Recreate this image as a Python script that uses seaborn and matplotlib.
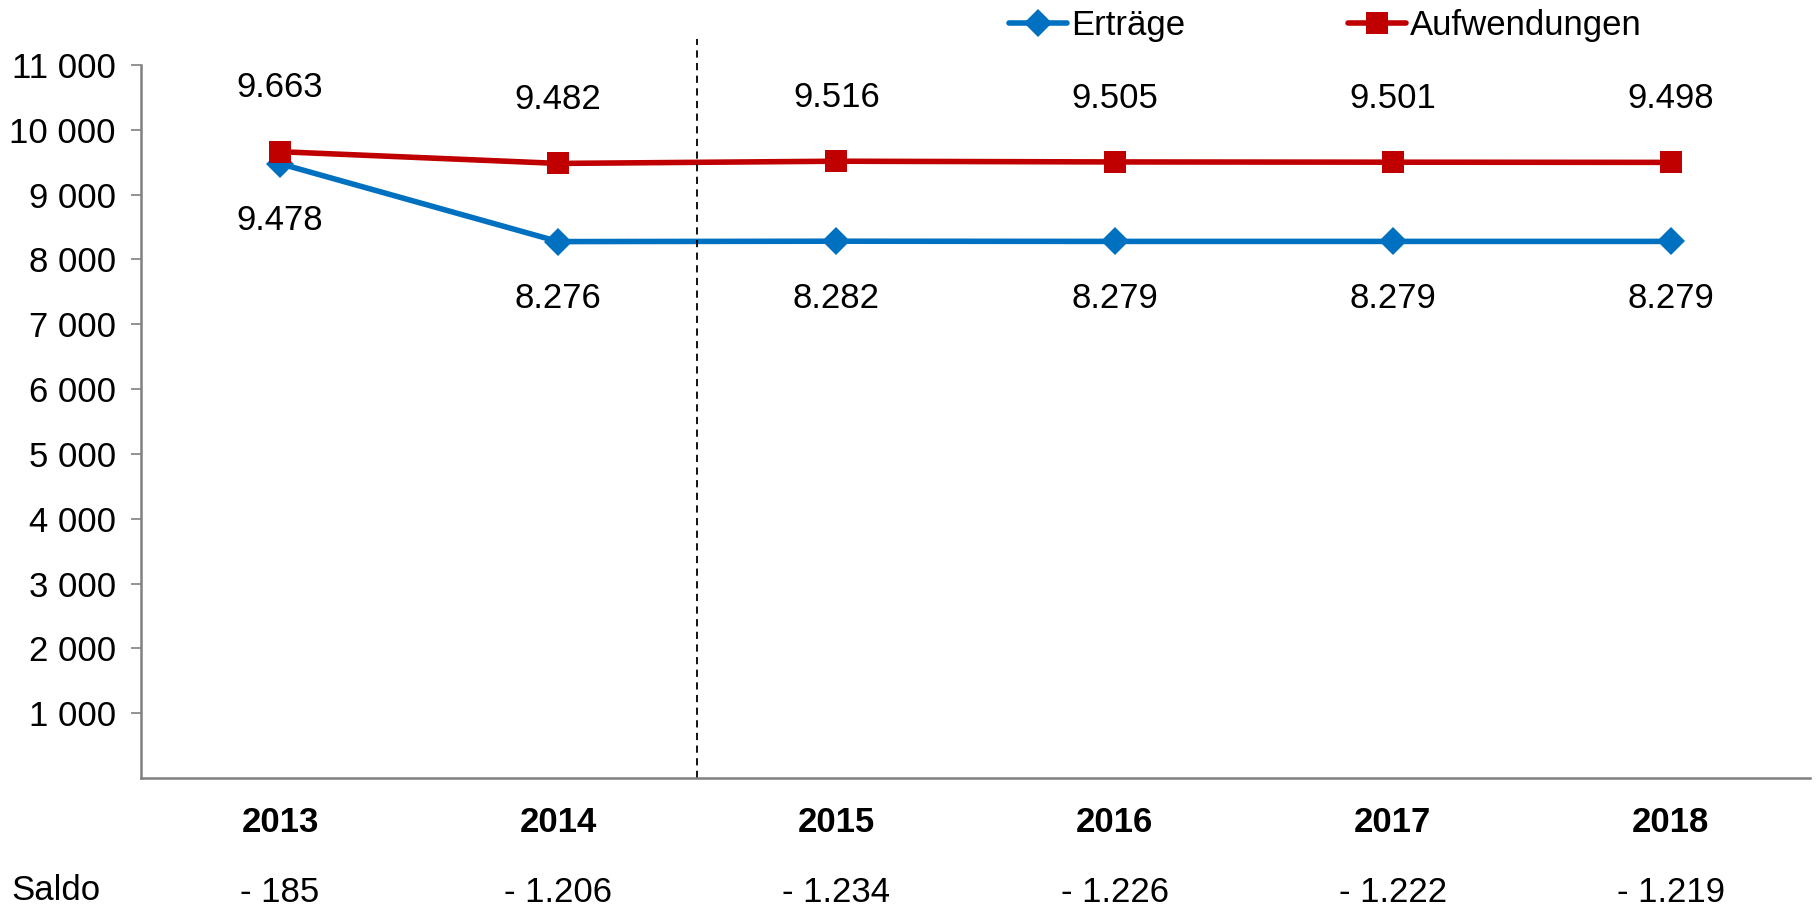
import numpy as np
import pandas as pd
import matplotlib.pyplot as plt
import seaborn as sns
from matplotlib.lines import Line2D
from matplotlib.ticker import FuncFormatter

years = ['2013', '2014', '2015', '2016', '2017', '2018']
ertraege = [9478, 8276, 8282, 8279, 8279, 8279]
aufwendungen = [9663, 9482, 9516, 9505, 9501, 9498]
saldo = ['- 185', '- 1.206', '- 1.234', '- 1.226', '- 1.222', '- 1.219']
y_ticks = [1000, 2000, 3000, 4000, 5000, 6000, 7000, 8000, 9000, 10000, 11000]

BLUE = '#0070C0'
RED = '#C00000'
GREY = '#808080'
FS = 25

sns.set_theme(style='white')
plt.rcParams['font.family'] = ['Liberation Sans', 'DejaVu Sans']
plt.rcParams['font.size'] = FS
plt.rcParams['text.color'] = 'black'
plt.rcParams['xtick.color'] = 'black'
plt.rcParams['ytick.color'] = 'black'

df = pd.DataFrame({'Jahr': years, 'Erträge': ertraege, 'Aufwendungen': aufwendungen})
df['pos'] = range(len(years))

fig = plt.figure(figsize=(18.17, 9.07), dpi=100)
ax = fig.add_axes([0.0776, 0.1422, 0.9961 - 0.0776, 0.9283 - 0.1422])

sns.lineplot(data=df, x='pos', y='Erträge', color=BLUE, linewidth=4,
             marker='D', markersize=14, markeredgewidth=0, ax=ax)
sns.lineplot(data=df, x='pos', y='Aufwendungen', color=RED, linewidth=4,
             marker='s', markersize=16, markeredgewidth=0, ax=ax)

# data labels
fmt = lambda v: f'{v / 1000:.3f}'
for i, v in enumerate(aufwendungen):
    ax.annotate(fmt(v), (i, v), xytext=(0, 46), textcoords='offset points',
                ha='center', va='center', fontsize=FS)
for i, v in enumerate(ertraege):
    ax.annotate(fmt(v), (i, v), xytext=(0, -41), textcoords='offset points',
                ha='center', va='center', fontsize=FS)

# axes styling
ax.set_xlim(-0.5, len(years) - 0.5)
ax.set_ylim(0, 11000)
ax.set_yticks(y_ticks)
ax.yaxis.set_major_formatter(FuncFormatter(lambda v, p: f'{int(v):,}'.replace(',', ' ')))
ax.tick_params(axis='y', direction='out', length=7, width=1.2, color=GREY, pad=11,
               labelsize=FS, labelcolor='black', left=True)
ax.set_xticks(range(len(years)))
ax.set_xticklabels(years, fontweight='bold', fontsize=FS)
ax.tick_params(axis='x', which='major', length=0, pad=20, labelcolor='black')
ax.set_xticks(np.arange(-0.5, len(years)), minor=True)
ax.tick_params(axis='x', which='minor', direction='in', length=7, width=1.2, color=GREY)
ax.set_xlabel('')
ax.set_ylabel('')
for side in ['top', 'right']:
    ax.spines[side].set_visible(False)
for side in ['left', 'bottom']:
    ax.spines[side].set_color(GREY)
    ax.spines[side].set_linewidth(1.8)

# forecast divider
ax.axvline(1.5, ymin=0, ymax=1.036, color='black', linestyle=(0, (4, 3)),
           linewidth=1.3, clip_on=False)

# saldo row
trans = ax.get_xaxis_transform()
fig.text(0.006, 0.018, 'Saldo', ha='left', va='center', fontsize=FS)
for i, s in enumerate(saldo):
    ax.text(i, -0.16, s, transform=trans, ha='center', va='center', fontsize=FS)

handles = [Line2D([], [], color=BLUE, lw=4, marker='D', markersize=14, markeredgewidth=0),
           Line2D([], [], color=RED, lw=4, marker='s', markersize=16, markeredgewidth=0)]
fig.legend(handles, ['Erträge', 'Aufwendungen'], loc='center left',
           bbox_to_anchor=(0.5455, 0.972), ncol=2, frameon=False, fontsize=FS,
           handlelength=1.67, handletextpad=0.12, columnspacing=4.7, borderpad=0)

fig.savefig('out.png', dpi=100)
